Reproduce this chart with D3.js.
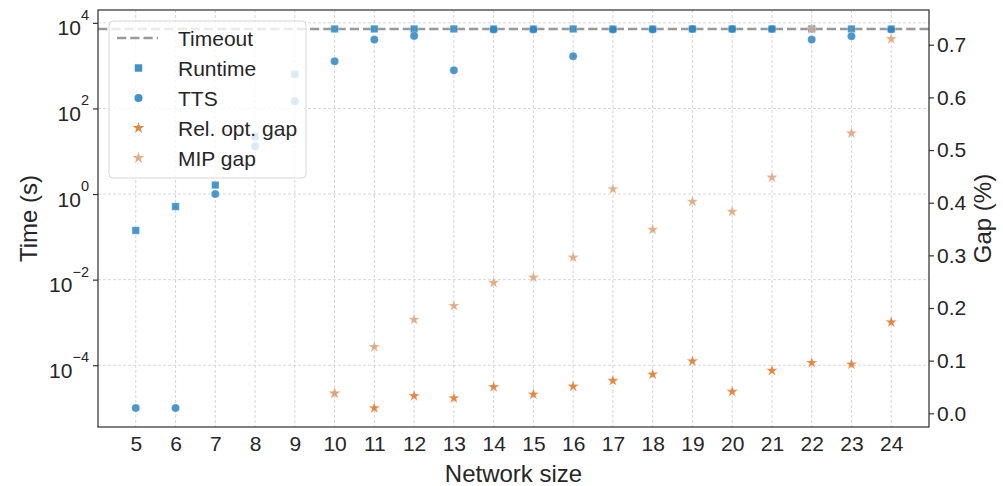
<!DOCTYPE html>
<html>
<head>
<meta charset="utf-8">
<script src="https://cdn.jsdelivr.net/npm/d3@7"></script>
<style>
  body { margin: 0; background: #fff; }
  text { font-family: "Liberation Sans", Arial, sans-serif; fill: #262626; }
</style>
</head>
<body>
<svg id="chart" width="1003" height="486"></svg>
<script>
// Network sizes on the x axis
const networkSizes = [5, 6, 7, 8, 9, 10, 11, 12, 13, 14, 15, 16, 17, 18, 19, 20, 21, 22, 23, 24];

// Solver time limit (s)
const timeoutSeconds = 7200;

// Total runtime (s); sizes 10+ hit the time limit
const runtime = [0.141, 0.51, 1.62, 21.9, 628, 7200, 7200, 7200, 7200, 7200,
                 7200, 7200, 7200, 7200, 7200, 7200, 7200, 7200, 7200, 7200];

// Time to solution (s)
const tts = [1e-5, 1e-5, 1.0, 13, 147, 1264, 4060, 4960, 778, 7000,
             7000, 1656, 7000, 7000, 7200, 7200, 7200, 4060, 4860, 7000];

// Relative optimality gap (%), only for runs that timed out
const relOptGap = [null, null, null, null, null, 0.038, 0.010, 0.033, 0.029, 0.050,
                   0.036, 0.051, 0.062, 0.074, 0.099, 0.041, 0.081, 0.096, 0.093, 0.173];

// MIP gap (%) reported by the solver
const mipGap = [null, null, null, null, null, 0.038, 0.126, 0.178, 0.204, 0.248,
                0.258, 0.296, 0.426, 0.349, 0.402, 0.383, 0.448, 0.730, 0.532, 0.711];

// Tick values
const timeTicks = [1e-4, 1e-2, 1e0, 1e2, 1e4];
const gapTicks = [0.0, 0.1, 0.2, 0.3, 0.4, 0.5, 0.6, 0.7];

const W = 1003, H = 486;
const margin = { top: 10, right: 74, bottom: 59, left: 98 };
const x0 = margin.left, x1 = W - margin.right, y0 = H - margin.bottom, y1 = margin.top;

const COLORS = {
  blue: "#2c86c2",
  rel: "#e27a2f",
  mip: "#dfa57b",
  timeout: "#999999",
  grid: "#cccccc",
  spine: "#333333"
};

const svg = d3.select("#chart");

// Padded domains (5% each side)
function padLinear(lo, hi, f = 0.05) { const d = (hi - lo) * f; return [lo - d, hi + d]; }

const xDom = padLinear(d3.min(networkSizes), d3.max(networkSizes));
const x = d3.scaleLinear().domain(xDom).range([x0, x1]);

const allTimes = runtime.concat(tts, [timeoutSeconds]);
const logDom = padLinear(Math.log10(d3.min(allTimes)), Math.log10(d3.max(allTimes)));
const yT = d3.scaleLog().domain([Math.pow(10, logDom[0]), Math.pow(10, logDom[1])]).range([y0, y1]);

const allGaps = relOptGap.concat(mipGap).filter(v => v != null);
const yG = d3.scaleLinear().domain(padLinear(d3.min(allGaps), d3.max(allGaps))).range([y0, y1]);

// Grid
const grid = svg.append("g").attr("class", "grid")
  .attr("stroke", COLORS.grid).attr("stroke-width", 0.8).attr("stroke-dasharray", "3,2");
grid.selectAll("line.v").data(networkSizes).join("line").attr("class", "v")
  .attr("x1", d => x(d)).attr("x2", d => x(d)).attr("y1", y1).attr("y2", y0);
grid.selectAll("line.h").data(timeTicks).join("line").attr("class", "h")
  .attr("x1", x0).attr("x2", x1).attr("y1", d => yT(d)).attr("y2", d => yT(d));

// Timeout reference line
svg.append("line")
  .attr("x1", x0).attr("x2", x1)
  .attr("y1", yT(timeoutSeconds)).attr("y2", yT(timeoutSeconds))
  .attr("stroke", COLORS.timeout).attr("stroke-width", 2.5)
  .attr("stroke-dasharray", "9.25,4");

// Markers
const marks = svg.append("g");
const sym = (type, size) => d3.symbol().type(type).size(size)();

function drawSeries(values, scale, type, size, color, opacity) {
  marks.append("g").selectAll("path")
    .data(networkSizes.map((s, i) => ({ s, v: values[i] })).filter(d => d.v != null))
    .join("path")
    .attr("transform", d => `translate(${x(d.s)},${scale(d.v)})`)
    .attr("d", sym(type, size))
    .attr("fill", color).attr("fill-opacity", opacity)
    .attr("stroke", "#fff").attr("stroke-width", 0.5).attr("stroke-opacity", 0.6);
}

drawSeries(runtime, yT, d3.symbolSquare, 56, COLORS.blue, 0.85);
drawSeries(tts, yT, d3.symbolCircle, 52, COLORS.blue, 0.85);
drawSeries(relOptGap, yG, d3.symbolStar, 42, COLORS.rel, 0.9);
drawSeries(mipGap, yG, d3.symbolStar, 42, COLORS.mip, 0.9);

// Axes
const fontTick = 21;

// Left (log time)
const axL = svg.append("g").attr("transform", `translate(${x0},0)`)
  .call(d3.axisLeft(yT).tickValues(timeTicks).tickSize(5).tickFormat(""));
axL.select(".domain").remove();
axL.selectAll(".tick line").attr("stroke", COLORS.spine).attr("stroke-width", 1.2);
axL.selectAll(".tick").each(function (d) {
  const e = Math.round(Math.log10(d));
  const t = d3.select(this).append("text")
    .attr("x", -9).attr("y", 12)
    .attr("text-anchor", "end")
    .style("font-size", fontTick + "px").attr("fill", "#262626");
  t.append("tspan").text("10");
  t.append("tspan").attr("dy", -15.5).style("font-size", "14.5px")
    .text(e < 0 ? "\u2212" + Math.abs(e) : String(e));
});

// Right (gap)
const axR = svg.append("g").attr("transform", `translate(${x1},0)`)
  .call(d3.axisRight(yG).tickValues(gapTicks).tickSize(5).tickPadding(3).tickFormat(d3.format(".1f")));
axR.select(".domain").remove();
axR.selectAll(".tick line").attr("stroke", COLORS.spine).attr("stroke-width", 1.2);
axR.selectAll(".tick text").style("font-size", fontTick + "px").attr("fill", "#262626");

// Bottom (network size)
const axB = svg.append("g").attr("transform", `translate(0,${y0})`)
  .call(d3.axisBottom(x).tickValues(networkSizes).tickSize(0).tickPadding(9).tickFormat(d3.format("d")));
axB.select(".domain").remove();
axB.selectAll(".tick text").style("font-size", fontTick + "px").attr("fill", "#262626");

// Frame
svg.append("rect").attr("x", x0).attr("y", y1).attr("width", x1 - x0).attr("height", y0 - y1)
  .attr("fill", "none").attr("stroke", COLORS.spine).attr("stroke-width", 1.25);

// Axis titles
const fontLabel = 24;
svg.append("text").attr("x", (x0 + x1) / 2).attr("y", H - 4)
  .attr("text-anchor", "middle").style("font-size", fontLabel + "px").text("Network size");
svg.append("text").attr("transform", `translate(37,${(y0 + y1) / 2}) rotate(-90)`)
  .attr("text-anchor", "middle").style("font-size", fontLabel + "px").text("Time (s)");
svg.append("text").attr("transform", `translate(991,${(y0 + y1) / 2}) rotate(-90)`)
  .attr("text-anchor", "middle").style("font-size", fontLabel + "px").text("Gap (%)");

// Legend
const lg = svg.append("g").attr("transform", `translate(${x0 + 11},${y1 + 11})`);
lg.append("rect").attr("width", 197).attr("height", 157).attr("rx", 4)
  .attr("fill", "#fff").attr("fill-opacity", 0.8)
  .attr("stroke", "#d6d6d6").attr("stroke-width", 1);

const legendItems = [
  { label: "Timeout", kind: "line" },
  { label: "Runtime", kind: d3.symbolSquare, color: COLORS.blue, size: 56 },
  { label: "TTS", kind: d3.symbolCircle, color: COLORS.blue, size: 52 },
  { label: "Rel. opt. gap", kind: d3.symbolStar, color: COLORS.rel, size: 42 },
  { label: "MIP gap", kind: d3.symbolStar, color: COLORS.mip, size: 42 }
];
legendItems.forEach((it, i) => {
  const cy = 17 + i * 30;
  const g = lg.append("g").attr("transform", `translate(0,${cy})`);
  if (it.kind === "line") {
    g.append("line").attr("x1", 8).attr("x2", 49).attr("y1", 0).attr("y2", 0)
      .attr("stroke", COLORS.timeout).attr("stroke-width", 2.5).attr("stroke-dasharray", "9.25,4");
  } else {
    g.append("path").attr("transform", "translate(29.5,0)")
      .attr("d", sym(it.kind, it.size)).attr("fill", it.color).attr("fill-opacity", 0.9);
  }
  g.append("text").attr("x", 69).attr("y", 7.5).style("font-size", "21px").text(it.label);
});
</script>
</body>
</html>
